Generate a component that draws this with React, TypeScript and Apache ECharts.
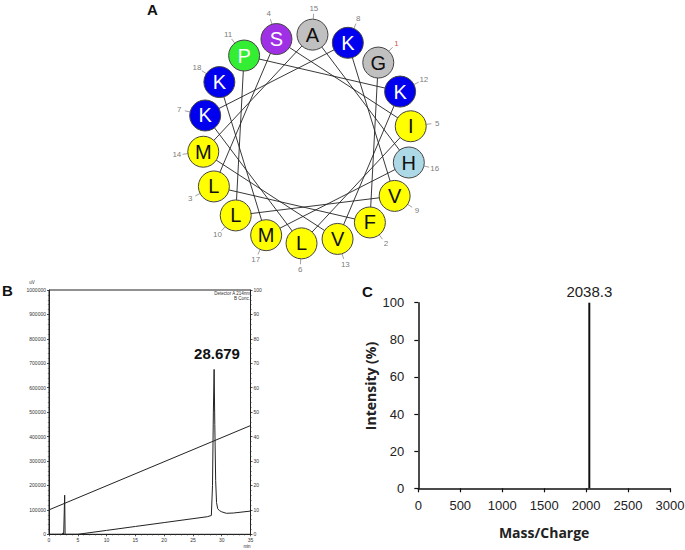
import React, { useEffect, useRef } from "react";
import * as echarts from "echarts";

// Panel A: helical wheel (residue number = index + 1)
const residues = ["G", "F", "L", "S", "I", "L", "K", "K", "V", "L", "P", "K", "V", "M", "A", "H", "M", "K"];
const wheelStartAngle = 43; // degrees clockwise from top for residue 1
const wheelStepAngle = 100; // alpha helix: 100 degrees per residue

// Panel B: HPLC chromatogram
const timeMin = [0, 2.3, 2.45, 2.55, 2.64, 2.72, 2.8, 5.0, 10, 15, 20, 25, 27.5, 28.2, 28.4, 28.55, 28.68, 28.8, 28.95, 29.1, 29.3, 29.6, 30.0, 30.8, 32, 35];
const signalUV = [0, 0, 6000, 0, 0, 160000, 0, 0, 16000, 32000, 48000, 64000, 72000, 77000, 200000, 500000, 675000, 450000, 220000, 130000, 105000, 97000, 92000, 86000, 87000, 95000];
const gradientTime = [0, 35];
const gradientConcB = [10, 44.5];
const peakLabel = "28.679";

// Panel C: mass spectrum
const massCharge = [2038.3];
const intensity = [100];

const residueColor: Record<string, string> = {
  K: "#0000ee",
  P: "#33ee33",
  S: "#a030e6",
  A: "#c0c0c0",
  G: "#c0c0c0",
  H: "#add8e6",
  F: "#ffff00",
  L: "#ffff00",
  I: "#ffff00",
  V: "#ffff00",
  M: "#ffff00",
};
const whiteText = new Set(["K", "P", "S"]);

export default function App() {
  const ref = useRef<HTMLDivElement>(null);
  useEffect(() => {
    if (!ref.current) return;
    const chart = echarts.init(ref.current, null, { renderer: "svg" });
    const sans = "Liberation Sans, Arial, sans-serif";
    const angleOf = (i: number) => (wheelStartAngle + i * wheelStepAngle) % 360;
    const plain = (v: number) => String(v);

    const chordData = residues.map((_, i) => [1, angleOf(i)]);
    const tickData: any[] = [];
    residues.forEach((_, i) => {
      tickData.push([1.15, angleOf(i)]);
      tickData.push([1.2, angleOf(i)]);
      tickData.push(["-", "-"]);
    });

    const smallAxis = (extra: any) => ({
      axisLine: { show: true, lineStyle: { color: "#222", width: 1 } },
      axisTick: { show: true, length: 2, lineStyle: { color: "#222", width: 0.8 } },
      minorTick: { show: true, splitNumber: 5, length: 1.2, lineStyle: { color: "#444", width: 0.6 } },
      axisLabel: { fontSize: 5, color: "#333", margin: 3, fontFamily: sans, formatter: plain },
      splitLine: { show: false },
      ...extra,
    });

    const option: any = {
      animation: false,
      backgroundColor: "#ffffff",
      polar: { center: [307, 139], radius: 104.5 * 1.3 },
      angleAxis: { type: "value", min: 0, max: 360, startAngle: 90, clockwise: true, show: false },
      radiusAxis: { type: "value", min: 0, max: 1.3, show: false },
      grid: [
        { left: 49, top: 290, width: 201.5, height: 244.3, show: true, borderColor: "#222", borderWidth: 1, backgroundColor: "transparent", outerBoundsMode: "none" },
        { left: 418.3, top: 302.7, width: 251.7, height: 185.6, show: false, outerBoundsMode: "none" },
      ],
      xAxis: [
        smallAxis({ gridIndex: 0, type: "value", min: 0, max: 35, interval: 5 }),
        {
          gridIndex: 1, type: "value", min: 0, max: 3000, interval: 500,
          axisLine: { show: true, lineStyle: { color: "#111", width: 1.5 } },
          axisTick: { show: true, length: 4, lineStyle: { color: "#111", width: 1.2 } },
          axisLabel: { fontSize: 13, color: "#222", margin: 11, fontFamily: sans, formatter: plain },
          splitLine: { show: false },
          name: "Mass/Charge", nameLocation: "middle", nameGap: 37,
          nameTextStyle: { fontSize: 14, fontWeight: "bold", color: "#222", fontFamily: "Open Sans, sans-serif" },
        },
      ],
      yAxis: [
        smallAxis({ gridIndex: 0, type: "value", min: 0, max: 1000000, interval: 100000 }),
        smallAxis({ gridIndex: 0, type: "value", min: 0, max: 100, interval: 10, position: "right" }),
        {
          gridIndex: 1, type: "value", min: 0, max: 100, interval: 20,
          axisLine: { show: true, lineStyle: { color: "#111", width: 1.5 } },
          axisTick: { show: true, length: 4, lineStyle: { color: "#111", width: 1.2 } },
          axisLabel: { fontSize: 13, color: "#222", margin: 14, fontFamily: sans, formatter: plain },
          splitLine: { show: false },
        },
      ],
      series: [
        {
          type: "line", coordinateSystem: "polar", data: chordData, symbol: "none", z: 1,
          lineStyle: { color: "#222", width: 0.9 }, silent: true,
        },
        {
          type: "line", coordinateSystem: "polar", data: tickData, symbol: "none", z: 1, connectNulls: false,
          lineStyle: { color: "#888", width: 0.8 }, silent: true,
        },
        {
          type: "scatter", coordinateSystem: "polar", symbol: "circle", symbolSize: 31, z: 3,
          data: residues.map((r, i) => ({
            value: [1, angleOf(i)],
            itemStyle: { color: residueColor[r], borderColor: "#444", borderWidth: 1, opacity: 1 },
            label: { color: whiteText.has(r) ? "#ffffff" : "#111111" },
          })),
          itemStyle: { opacity: 1 },
          label: {
            show: true, position: "inside", fontSize: 20, fontFamily: sans,
            formatter: (p: any) => residues[p.dataIndex],
          },
        },
        {
          type: "scatter", coordinateSystem: "polar", symbol: "circle", symbolSize: 1, z: 3,
          itemStyle: { color: "transparent" },
          data: residues.map((_, i) => ({
            value: [1.255, angleOf(i)],
            label: { color: i === 0 ? "#cc2020" : "#555555" },
          })),
          label: {
            show: true, position: "inside", fontSize: 8, fontFamily: sans,
            formatter: (p: any) => String(p.dataIndex + 1),
          },
        },
        {
          type: "line", xAxisIndex: 0, yAxisIndex: 0, symbol: "none", z: 2,
          data: timeMin.map((t, i) => [t, signalUV[i]]),
          lineStyle: { color: "#222", width: 1 },
        },
        {
          type: "line", xAxisIndex: 0, yAxisIndex: 1, symbol: "none", z: 2,
          data: gradientTime.map((t, i) => [t, gradientConcB[i]]),
          lineStyle: { color: "#222", width: 1 },
        },
        {
          type: "bar", xAxisIndex: 1, yAxisIndex: 2, barWidth: 2,
          data: massCharge.map((m, i) => [m, intensity[i]]),
          itemStyle: { color: "#111" },
          label: {
            show: true, position: "top", distance: 4, fontSize: 15, color: "#222", fontFamily: sans,
            formatter: (p: any) => Number(p.value[0]).toFixed(1),
          },
        },
      ],
      graphic: [
        { type: "text", left: 147, top: 2, style: { text: "A", font: "bold 15px Liberation Sans, Arial, sans-serif", fill: "#111" } },
        { type: "text", left: 2, top: 283, style: { text: "B", font: "bold 15px Liberation Sans, Arial, sans-serif", fill: "#111" } },
        { type: "text", left: 362, top: 284, style: { text: "C", font: "bold 15px Liberation Sans, Arial, sans-serif", fill: "#111" } },
        { type: "text", x: 217, y: 353, style: { text: peakLabel, font: "bold 15px Liberation Sans, Arial, sans-serif", fill: "#111", align: "center", verticalAlign: "middle" } },
        { type: "text", x: 32, y: 282, style: { text: "uV", font: "4.5px Liberation Sans, Arial, sans-serif", fill: "#333", align: "center", verticalAlign: "middle" } },
        { type: "text", x: 250, y: 293, style: { text: "Detector A 214nm", font: "4.5px Liberation Sans, Arial, sans-serif", fill: "#333", align: "right", verticalAlign: "middle" } },
        { type: "text", x: 250, y: 298.5, style: { text: "B Conc.", font: "4.5px Liberation Sans, Arial, sans-serif", fill: "#333", align: "right", verticalAlign: "middle" } },
        { type: "text", x: 247, y: 546, style: { text: "min", font: "4.5px Liberation Sans, Arial, sans-serif", fill: "#333", align: "center", verticalAlign: "middle" } },
        { type: "text", x: 370, y: 386, rotation: Math.PI / 2, style: { text: "Intensity (%)", font: "bold 14px Open Sans, sans-serif", fill: "#222", align: "center", verticalAlign: "middle" } },
      ],
    };
    chart.setOption(option);
    return () => chart.dispose();
  }, []);
  return <div ref={ref} style={{ position: "absolute", left: 0, top: 0, width: 685, height: 550 }} />;
}
